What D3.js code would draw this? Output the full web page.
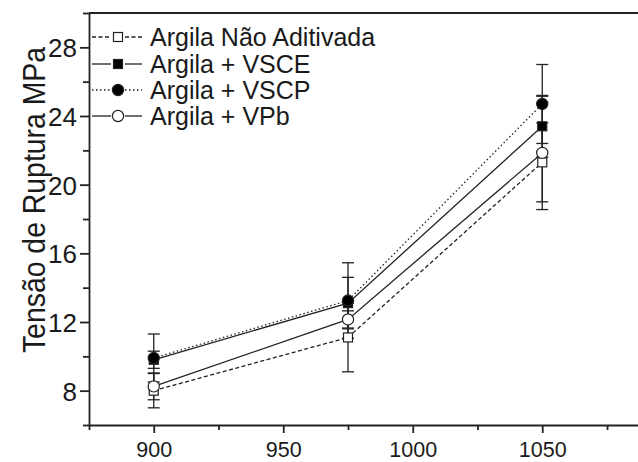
<!DOCTYPE html>
<html>
<head>
<meta charset="utf-8">
<script src="https://cdn.jsdelivr.net/npm/d3@7"></script>
<style>
  html, body { margin: 0; padding: 0; background: #fff; }
  svg { display: block; }
  text { font-family: "Liberation Sans", Arial, sans-serif; fill: #1a1a1a; }
</style>
</head>
<body>
<svg id="chart" width="638" height="462"></svg>
<script>
// Firing temperature (°C)
const temperatures = [900, 975, 1050];

// Series names
const seriesNames = ["Argila Não Aditivada", "Argila + VSCE", "Argila + VSCP", "Argila + VPb"];

// Rupture stress (MPa) per series
const valuesNaoAditivada = [8.0, 11.1, 21.3];
const valuesVSCE = [9.8, 13.1, 23.4];
const valuesVSCP = [9.9, 13.25, 24.7];
const valuesVPb = [8.25, 12.15, 21.85];

// Standard deviations (MPa)
const errNaoAditivada = [1.0, 2.0, 2.3];
const errVSCE = [0.5, 1.5, 1.8];
const errVSCP = [1.4, 2.2, 2.3];
const errVPb = [0.78, 0.5, 3.3];

// Axis ticks
const yTicks = [8, 12, 16, 20, 24, 28];
const yMinorTicks = [6, 10, 14, 18, 22, 26, 30];
const xTicks = [900, 950, 1000, 1050];
const xMinorTicks = [875, 925, 975, 1025, 1075];

const yTitle = "Tensão de Ruptura MPa";

const series = [
  { name: seriesNames[0], values: valuesNaoAditivada, err: errNaoAditivada, dash: "4,2.5", marker: "square", fill: "#fff" },
  { name: seriesNames[1], values: valuesVSCE, err: errVSCE, dash: null, marker: "square", fill: "#000" },
  { name: seriesNames[2], values: valuesVSCP, err: errVSCP, dash: "1.5,2.5", marker: "circle", fill: "#000" },
  { name: seriesNames[3], values: valuesVPb, err: errVPb, dash: null, marker: "circle", fill: "#fff" }
];

const svg = d3.select("#chart");
const plotLeft = 89, plotTop = 13, plotBottom = 425;

const x = d3.scaleLinear().domain([875, 1095]).range([plotLeft, plotLeft + 220 * 2.59]);
const y = d3.scaleLinear().domain([6, 30]).range([plotBottom, plotTop]);

const ink = "#222";

// Axes
const gx = svg.append("g").attr("transform", `translate(0,${plotBottom})`)
  .call(d3.axisBottom(x).tickValues(xTicks).tickSize(8).tickPadding(9).tickSizeOuter(0).tickFormat(d3.format("d")));
const gxMinor = svg.append("g").attr("transform", `translate(0,${plotBottom})`)
  .call(d3.axisBottom(x).tickValues(xMinorTicks).tickSize(5).tickFormat("").tickSizeOuter(0));
gxMinor.select(".domain").remove();

const gy = svg.append("g").attr("transform", `translate(${plotLeft},0)`)
  .call(d3.axisLeft(y).tickValues(yTicks).tickSize(9).tickPadding(3).tickSizeOuter(0));
const gyMinor = svg.append("g").attr("transform", `translate(${plotLeft},0)`)
  .call(d3.axisLeft(y).tickValues(yMinorTicks).tickSize(6).tickFormat("").tickSizeOuter(0));
gyMinor.select(".domain").remove();

// Top frame line
svg.append("line")
  .attr("x1", plotLeft).attr("x2", x(1095))
  .attr("y1", plotTop).attr("y2", plotTop)
  .attr("stroke", ink).attr("stroke-width", 1.8);

[gx, gxMinor, gy, gyMinor].forEach(g => {
  g.selectAll(".domain").attr("stroke", ink).attr("stroke-width", 1.8);
  g.selectAll(".tick line").attr("stroke", ink).attr("stroke-width", 1.8);
  g.selectAll(".tick text").attr("fill", "#1a1a1a")
    .style("font-family", "'Liberation Sans', Arial, sans-serif");
});
gx.selectAll(".tick text").attr("font-size", 21.5);
gy.selectAll(".tick text").attr("font-size", 26).attr("dy", "0.36em");

// Y axis title (slightly stretched across the baseline)
svg.append("text")
  .attr("transform", "translate(45,200) scale(1.1,1) rotate(-90)")
  .attr("text-anchor", "middle")
  .attr("font-size", 28.4)
  .text(yTitle);

// Lines between points
const line = d3.line().x((d, i) => x(temperatures[i])).y(d => y(d));
series.forEach(s => {
  svg.append("path")
    .attr("d", line(s.values))
    .attr("fill", "none")
    .attr("stroke", ink)
    .attr("stroke-width", 1.3)
    .attr("stroke-dasharray", s.dash);
});

// Error bars
series.forEach(s => {
  const g = svg.append("g");
  s.values.forEach((v, i) => {
    const cx = x(temperatures[i]);
    const y1 = y(v + s.err[i]), y2 = y(v - s.err[i]);
    g.append("line").attr("x1", cx).attr("x2", cx).attr("y1", y1).attr("y2", y2)
      .attr("stroke", ink).attr("stroke-width", 1.3);
    [y1, y2].forEach(yy => {
      g.append("line").attr("x1", cx - 6).attr("x2", cx + 6).attr("y1", yy).attr("y2", yy)
        .attr("stroke", ink).attr("stroke-width", 1.3);
    });
  });
});

function drawMarker(g, type, cx, cy, fill) {
  if (type === "square") {
    g.append("rect").attr("x", cx - 4.5).attr("y", cy - 4.5).attr("width", 9).attr("height", 9)
      .attr("fill", fill).attr("stroke", ink).attr("stroke-width", 1.2);
  } else {
    g.append("circle").attr("cx", cx).attr("cy", cy).attr("r", 5.6)
      .attr("fill", fill).attr("stroke", ink).attr("stroke-width", 1.2);
  }
}

// Markers
series.forEach(s => {
  const g = svg.append("g");
  s.values.forEach((v, i) => drawMarker(g, s.marker, x(temperatures[i]), y(v), s.fill));
});

// Legend
const legendY = [37, 64, 90, 116];
series.forEach((s, i) => {
  const g = svg.append("g").attr("transform", `translate(0,${legendY[i]})`);
  g.append("line").attr("x1", 92).attr("x2", 111).attr("y1", 0).attr("y2", 0)
    .attr("stroke", ink).attr("stroke-width", 1.3).attr("stroke-dasharray", s.dash);
  g.append("line").attr("x1", 125).attr("x2", 142).attr("y1", 0).attr("y2", 0)
    .attr("stroke", ink).attr("stroke-width", 1.3).attr("stroke-dasharray", s.dash);
  drawMarker(g, s.marker, 118, 0, s.fill);
  g.append("text").attr("x", 150).attr("y", 0).attr("dy", "0.35em")
    .attr("font-size", 25).text(s.name);
});
</script>
</body>
</html>
